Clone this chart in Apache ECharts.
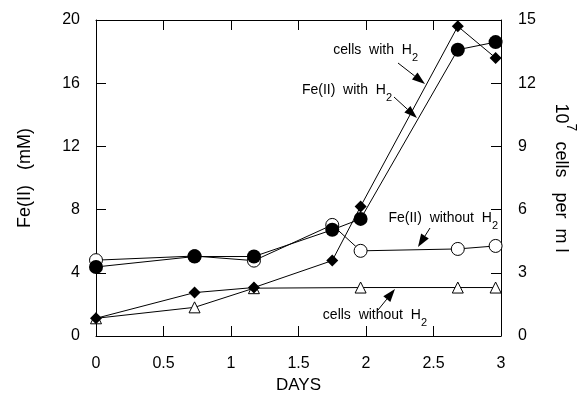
<!DOCTYPE html>
<html>
<head>
<meta charset="utf-8">
<title>Fe(II) and cells vs days</title>
<script src="https://cdn.jsdelivr.net/npm/echarts@6/dist/echarts.min.js"></script>
<style>
  html, body { margin: 0; padding: 0; background: #fff; }
  #chart { width: 579px; height: 394px; }
</style>
</head>
<body>
<div id="chart"></div>
<script>
// sampling days
var days = [0, 0.73, 1.17, 1.75, 1.96, 2.68, 2.96];
var daysNoH2Cells = [0, 0.73, 1.17, 1.96, 2.68, 2.96];

// Fe(II) in mM (left axis)
var feWithH2 = [4.37, 5.03, 5.03, 6.72, 7.41, 18.12, 18.6];
var feWithoutH2 = [4.8, 5.06, 4.77, 7.03, 5.39, 5.51, 5.7];

// cells, 10^7 per ml (right axis)
var cellsWithH2 = [0.84, 2.06, 2.3, 3.58, 6.15, 14.7, 13.2];
var cellsWithoutH2 = [0.84, 1.36, 2.27, 2.3, 2.3, 2.3];

function pairs(xs, ys) {
    return xs.map(function (x, i) { return [x, ys[i]]; });
}

var font = 'Liberation Sans';
var chart = echarts.init(document.getElementById('chart'));

// arrow made of a line and a filled head, tip at (x2, y2)
function arrow(x1, y1, x2, y2) {
    var a = Math.atan2(y2 - y1, x2 - x1);
    var len = 13, half = 4.5;
    var bx = x2 - len * Math.cos(a), by = y2 - len * Math.sin(a);
    var px = -Math.sin(a) * half, py = Math.cos(a) * half;
    return [
        { type: 'line', shape: { x1: x1, y1: y1, x2: bx, y2: by },
          style: { stroke: '#000', lineWidth: 1 } },
        { type: 'polygon', shape: { points: [[x2, y2], [bx + px, by + py], [bx - px, by - py]] },
          style: { fill: '#000' } }
    ];
}

// annotation with subscript 2, right end at x, vertical middle at y
function label(x, y, main) {
    return {
        type: 'text', x: x, y: y - 10,
        style: {
            text: '{m|' + main + '}{s|2}',
            align: 'right',
            font: '14px ' + font,
            rich: {
                m: { fontSize: 14, fontFamily: font, fill: '#000', verticalAlign: 'top', lineHeight: 20 },
                s: { fontSize: 11, fontFamily: font, fill: '#000', verticalAlign: 'bottom', lineHeight: 20 }
            }
        }
    };
}

var graphics = [
    label(418, 53, 'cells  with  H'),
    label(392, 93, 'Fe(II)  with  H'),
    label(498, 221, 'Fe(II)  without  H'),
    label(427, 318, 'cells  without  H')
].concat(arrow(398, 63, 425, 84))
 .concat(arrow(394, 97, 417, 118))
 .concat(arrow(430, 228, 418, 247))
 .concat(arrow(378, 310, 395, 289));

function axisLine() { return { show: true, onZero: false, lineStyle: { color: '#000', width: 1 } }; }
function tick() { return { show: true, inside: true, length: 10, lineStyle: { color: '#000', width: 1 } }; }
function tickLabel(margin) {
    return { color: '#000', fontFamily: font, fontSize: 16, margin: margin };
}

chart.setOption({
    animation: false,
    backgroundColor: '#fff',
    grid: { left: 96, right: 78, top: 20, bottom: 58, outerBoundsMode: 'none' },
    xAxis: [
        {
            type: 'value', min: 0, max: 3, interval: 0.5,
            name: 'DAYS', nameLocation: 'middle', nameGap: 40,
            nameTextStyle: { color: '#000', fontFamily: font, fontSize: 17 },
            axisLine: axisLine(), axisTick: tick(),
            axisLabel: tickLabel(20),
            splitLine: { show: false }
        },
        {
            type: 'value', min: 0, max: 3, interval: 0.5, position: 'top',
            axisLine: axisLine(), axisTick: tick(), axisLabel: { show: false },
            splitLine: { show: false }
        }
    ],
    yAxis: [
        {
            type: 'value', min: 0, max: 20, interval: 4,
            name: 'Fe(II)   (mM)', nameLocation: 'middle', nameGap: 62, nameRotate: 90,
            nameTextStyle: { color: '#000', fontFamily: font, fontSize: 18 },
            axisLine: axisLine(), axisTick: tick(),
            axisLabel: tickLabel(16),
            splitLine: { show: false }
        },
        {
            type: 'value', min: 0, max: 15, interval: 3, position: 'right',
            name: '{n|10}{s|7}{n|  cells   per  m l}', nameLocation: 'middle', nameGap: 51, nameRotate: -90,
            nameTextStyle: {
                color: '#000', fontFamily: font, fontSize: 18,
                rich: {
                    n: { fontFamily: font, fontSize: 18, color: '#000', verticalAlign: 'bottom', lineHeight: 26 },
                    s: { fontFamily: font, fontSize: 14, color: '#000', verticalAlign: 'top', lineHeight: 26 }
                }
            },
            axisLine: axisLine(), axisTick: tick(),
            axisLabel: tickLabel(17),
            splitLine: { show: false }
        }
    ],
    series: [
        {
            name: 'cells without H2', type: 'line', yAxisIndex: 1,
            data: pairs(daysNoH2Cells, cellsWithoutH2),
            symbol: 'triangle', symbolSize: 11,
            itemStyle: { color: '#fff', borderColor: '#000', borderWidth: 1 },
            lineStyle: { color: '#000', width: 1 }
        },
        {
            name: 'cells with H2', type: 'line', yAxisIndex: 1,
            data: pairs(days, cellsWithH2),
            symbol: 'diamond', symbolSize: 12,
            itemStyle: { color: '#000' },
            lineStyle: { color: '#000', width: 1 }
        },
        {
            name: 'Fe(II) without H2', type: 'line', yAxisIndex: 0,
            data: pairs(days, feWithoutH2),
            symbol: 'circle', symbolSize: 13,
            itemStyle: { color: '#fff', borderColor: '#000', borderWidth: 1 },
            lineStyle: { color: '#000', width: 1 }
        },
        {
            name: 'Fe(II) with H2', type: 'line', yAxisIndex: 0,
            data: pairs(days, feWithH2),
            symbol: 'circle', symbolSize: 14,
            itemStyle: { color: '#000' },
            lineStyle: { color: '#000', width: 1 }
        }
    ],
    graphic: graphics
});
</script>
</body>
</html>
